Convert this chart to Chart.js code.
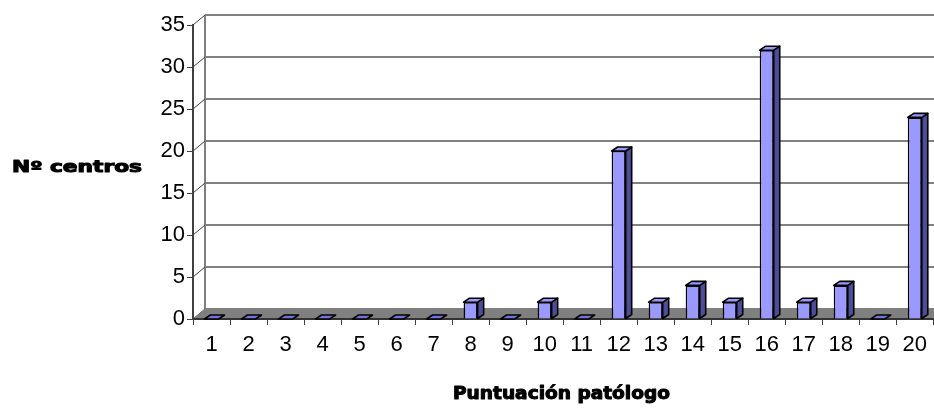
<!DOCTYPE html>
<html>
<head>
<meta charset="utf-8">
<script src="https://cdn.jsdelivr.net/npm/chart.js@4/dist/chart.umd.min.js"></script>
<style>
  html, body { margin: 0; padding: 0; background: #fff; }
  #wrap { width: 934px; height: 410px; position: relative; }
</style>
</head>
<body>
<div id="wrap"><canvas id="c" width="934" height="410"></canvas></div>
<script>
// Scores (categories) and number of centres per score
const categories = ['1','2','3','4','5','6','7','8','9','10','11','12','13','14','15','16','17','18','19','20'];
const centros = [0, 0, 0, 0, 0, 0, 0, 2, 0, 2, 0, 20, 2, 4, 2, 32, 2, 4, 0, 24];
const yMin = 0;
const yMax = 35;
const yStep = 5;
const yTitle = 'Nº centros';
const xTitle = 'Puntuación patólogo';

// 3D look: depth of the walls and of the bars
const WALL_DX = 12, WALL_DY = -10;
const BAR_DX = 6, BAR_DY = -4;

const tickFont = { family: '"Liberation Sans", Arial, sans-serif', size: 22 };

const pseudo3d = {
  id: 'pseudo3d',
  beforeDraw(chart) {
    const { ctx, chartArea: a, scales: { y } } = chart;
    ctx.save();
    ctx.fillStyle = '#fff';
    ctx.fillRect(0, 0, chart.width, chart.height);
    // back wall grid lines
    ctx.strokeStyle = '#808080';
    ctx.lineWidth = 2;
    y.ticks.forEach(t => {
      const py = Math.round(y.getPixelForValue(t.value) + WALL_DY);
      ctx.beginPath();
      ctx.moveTo(a.left + WALL_DX, py);
      ctx.lineTo(chart.width, py);
      ctx.stroke();
    });
    // back wall left edge
    ctx.beginPath();
    ctx.moveTo(a.left + WALL_DX, a.top + WALL_DY);
    ctx.lineTo(a.left + WALL_DX, a.bottom + WALL_DY);
    ctx.stroke();
    // side wall lines from the front axis to the back wall
    ctx.strokeStyle = '#404040';
    ctx.lineWidth = 1;
    y.ticks.forEach(t => {
      const py = y.getPixelForValue(t.value);
      ctx.beginPath();
      ctx.moveTo(a.left, py);
      ctx.lineTo(a.left + WALL_DX, py + WALL_DY);
      ctx.stroke();
    });
    // floor
    ctx.fillStyle = '#808080';
    ctx.beginPath();
    ctx.moveTo(a.left, a.bottom);
    ctx.lineTo(a.right, a.bottom);
    ctx.lineTo(a.right + WALL_DX, a.bottom + WALL_DY);
    ctx.lineTo(a.left + WALL_DX, a.bottom + WALL_DY);
    ctx.closePath();
    ctx.fill();
    ctx.restore();
  },
  afterDatasetsDraw(chart) {
    const { ctx } = chart;
    const meta = chart.getDatasetMeta(0);
    meta.data.forEach(bar => {
      const { x, y, base, width } = bar.getProps(['x', 'y', 'base', 'width'], true);
      const l = x - width / 2, r = x + width / 2;
      ctx.save();
      ctx.strokeStyle = '#000';
      ctx.lineWidth = 1.6;
      ctx.lineJoin = 'round';
      if (base - y > 0.5) {
        // right side face
        ctx.fillStyle = '#4d4d99';
        ctx.beginPath();
        ctx.moveTo(r, y);
        ctx.lineTo(r + BAR_DX, y + BAR_DY);
        ctx.lineTo(r + BAR_DX, base + BAR_DY);
        ctx.lineTo(r, base);
        ctx.closePath();
        ctx.fill();
        ctx.stroke();
      }
      // top face
      ctx.fillStyle = base - y > 0.5 ? '#9999ff' : '#7373dd';
      ctx.beginPath();
      ctx.moveTo(l, y);
      ctx.lineTo(r, y);
      ctx.lineTo(r + BAR_DX, y + BAR_DY);
      ctx.lineTo(l + BAR_DX, y + BAR_DY);
      ctx.closePath();
      ctx.fill();
      ctx.stroke();
      ctx.restore();
    });
  },
  afterDraw(chart) {
    const { ctx } = chart;
    const drawTitle = (text, size, left, baseline, targetWidth) => {
      ctx.save();
      ctx.font = 'bold ' + size + 'px "DejaVu Sans", sans-serif';
      ctx.fillStyle = '#000';
      ctx.strokeStyle = '#000';
      ctx.lineWidth = 1;
      ctx.lineJoin = 'round';
      ctx.textBaseline = 'alphabetic';
      const w = ctx.measureText(text).width;
      ctx.translate(left, baseline);
      ctx.scale(targetWidth / w, 1);
      ctx.fillText(text, 0, 0);
      ctx.strokeText(text, 0, 0);
      ctx.restore();
    };
    drawTitle(yTitle, 15, 12, 172, 130);
    drawTitle(xTitle, 17, 453, 399, 217);
  }
};

new Chart(document.getElementById('c'), {
  type: 'bar',
  data: {
    labels: categories,
    datasets: [{
      data: centros,
      backgroundColor: '#9999ff',
      borderColor: '#000',
      borderWidth: 1.6,
      categoryPercentage: 1,
      barPercentage: 0.38
    }]
  },
  options: {
    responsive: false,
    animation: false,
    devicePixelRatio: 1,
    layout: { padding: { top: 25, right: -4, left: 0, bottom: 0 } },
    plugins: { legend: { display: false }, tooltip: { enabled: false } },
    scales: {
      x: {
        ticks: { color: '#000', font: tickFont, padding: 7, maxRotation: 0, autoSkip: false },
        grid: { drawOnChartArea: false, drawTicks: true, tickLength: 6, color: '#404040', lineWidth: 1 },
        border: { display: true, color: '#333', width: 2 },
        afterFit(s) { s.height = 91; }
      },
      y: {
        min: yMin,
        max: yMax,
        ticks: { stepSize: yStep, color: '#000', font: tickFont, padding: 2 },
        grid: { drawOnChartArea: false, drawTicks: true, tickLength: 6, color: '#404040', lineWidth: 1 },
        border: { display: true, color: '#404040', width: 2 },
        afterFit(s) { s.width = 193; }
      }
    }
  },
  plugins: [pseudo3d]
});
</script>
</body>
</html>
